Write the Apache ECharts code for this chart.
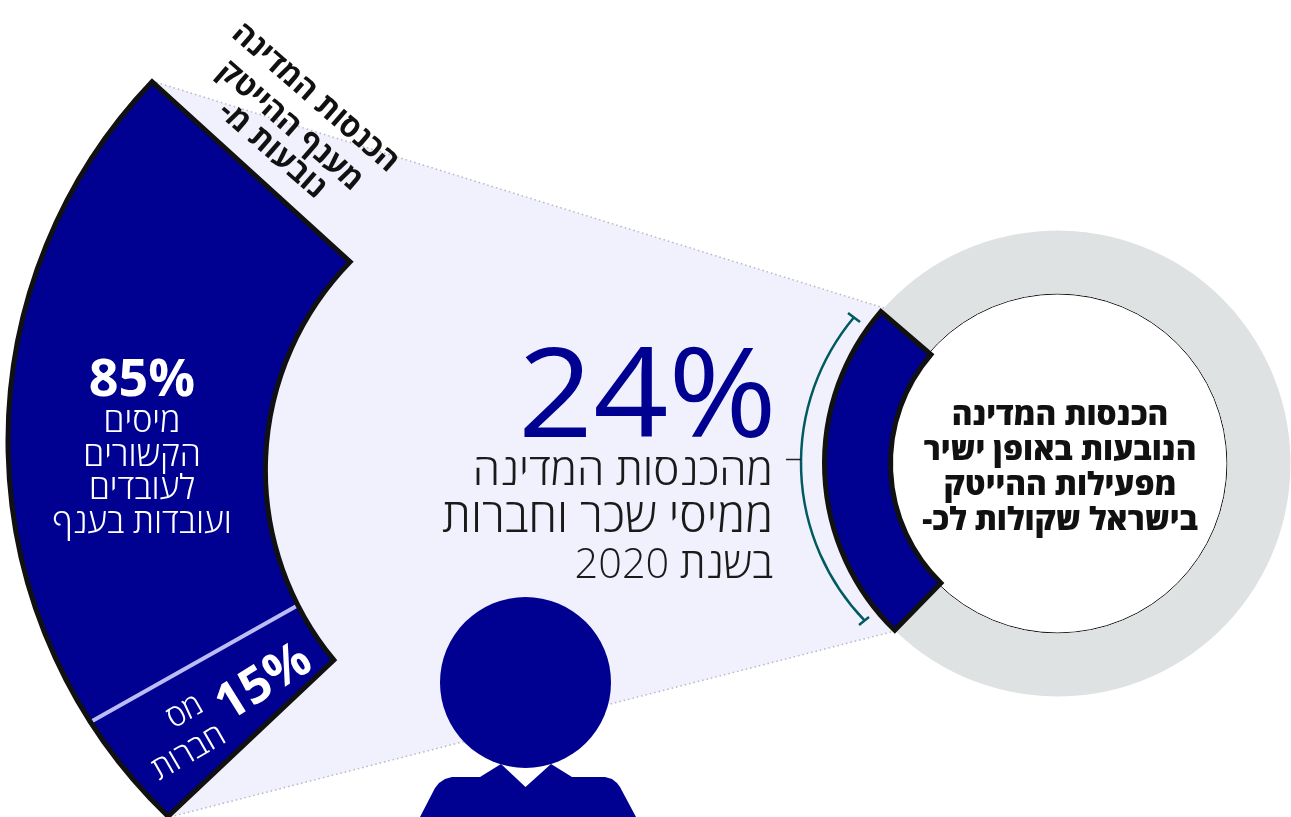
<!DOCTYPE html>
<html dir="rtl"><head><meta charset="utf-8"><style>html,body{margin:0;background:#fff;overflow:hidden}#c{width:1291px;height:817px}</style>
<script src="https://cdn.jsdelivr.net/npm/echarts@6/dist/echarts.min.js"></script></head><body><div id="c"></div><script>
const donutNames=['הכנסות ממיסי שכר וחברות','שאר הכנסות המדינה'];
const donutValues=[24,76];
const breakdownNames=['מיסים הקשורים לעובדים','מס חברות'];
const breakdownValues=[85,15];
const headline='24%';
const headlineLines=['מהכנסות המדינה','ממיסי שכר וחברות','בשנת 2020'];
const centerLines=['הכנסות המדינה','הנובעות באופן ישיר','מפעילות ההייטק','בישראל שקולות לכ-'];
const topLines=['הכנסות המדינה','מענף ההייטק','נובעות מ-'];
const wageShare='85%';
const wageLines=['מיסים','הקשורים','לעובדים','ועובדות בענף'];
const corpShare='15%';
const corpLines=['מס','חברות'];

const BLUE='#000091',INK='#111111',LAV='#f1f1fe',GREY='#dfe2e2',TEAL='#005a60';
const F='"Open Sans"';
const rad=d=>d*Math.PI/180;
const outerC={x:528,y:441,r:520,a0:136.3,a1:226.2};
const innerC={x:563.4,y:470,r:298,a0:135.7,a1:219.6};
const pt=(c,t)=>{const a=rad(c.a0+(c.a1-c.a0)*t);return [c.x+c.r*Math.cos(a),c.y-c.r*Math.sin(a)];};
const total=breakdownValues.reduce((a,b)=>a+b,0);
function band(t0,t1){
  const o0=pt(outerC,t0),o1=pt(outerC,t1),i0=pt(innerC,t0),i1=pt(innerC,t1);
  return `M${o0} A${outerC.r} ${outerC.r} 0 0 0 ${o1} L${i1} A${innerC.r} ${innerC.r} 0 0 1 ${i0} Z`.replace(/,/g,' ');
}
function renderBand(params,api){
  const idx=params.dataIndex;
  const t0=breakdownValues.slice(0,idx).reduce((a,b)=>a+b,0)/total;
  const t1=t0+api.value(0)/total;
  const kids=[{type:'path',shape:{pathData:band(t0,t1)},style:{fill:BLUE,stroke:BLUE,lineWidth:1}}];
  if(idx===breakdownValues.length-1){
    const s=pt(outerC,t0),e=pt(innerC,t0);
    kids.push({type:'line',shape:{x1:s[0],y1:s[1],x2:e[0],y2:e[1]},style:{stroke:'#bcbcf5',lineWidth:4}});
    kids.push({type:'path',shape:{pathData:band(0,1)},style:{fill:null,stroke:INK,lineWidth:5,lineJoin:'miter',miterLimit:10}});
  }
  return {type:'group',children:kids};
}
// y is the baseline for upright text, and the optical centre for rotated text
const txt=(text,x,y,size,weight,fill,align,rot)=>({type:'text',z:10,silent:true,x,y:rot?y:y-0.3*size,rotation:rot?rad(rot):0,
  style:{text,fill,font:`${weight} ${size}px ${F}`,textAlign:align||'center',textVerticalAlign:'middle'}});
const bodySizes=[44,46.4,41.5];
const els=[
  {type:'polygon',z:0,silent:true,shape:{points:[[152,81],[884,308],[895,631],[166,818]]},style:{fill:LAV}},
  {type:'line',z:0,silent:true,shape:{x1:152,y1:81,x2:884,y2:308},style:{stroke:'#b7b7c6',lineWidth:1.5,lineDash:[1.5,3]}},
  {type:'line',z:0,silent:true,shape:{x1:166,y1:818,x2:895,y2:631},style:{stroke:'#b7b7c6',lineWidth:1.5,lineDash:[1.5,3]}},
  {type:'circle',z:1,silent:true,shape:{cx:1057.5,cy:463.5,r:169.5},style:{fill:'#fff',stroke:'#111',lineWidth:1}},
  {type:'arc',z:5,silent:true,shape:{cx:1028,cy:463,r:227,startAngle:rad(136),endAngle:rad(219.8),clockwise:true},style:{fill:null,stroke:TEAL,lineWidth:2.5}},
  {type:'line',z:5,silent:true,shape:{x1:848,y1:313,x2:860,y2:322},style:{stroke:TEAL,lineWidth:2.5}},
  {type:'line',z:5,silent:true,shape:{x1:859,y1:625,x2:869,y2:617},style:{stroke:TEAL,lineWidth:2.5}},
  {type:'line',z:5,silent:true,shape:{x1:786,y1:459.5,x2:801,y2:459.5},style:{stroke:'#222',lineWidth:1.5}},
  {type:'circle',z:6,silent:true,shape:{cx:525.5,cy:682.5,r:85.5},style:{fill:BLUE}},
  {type:'polygon',z:6,silent:true,shape:{points:[[420,817],[435,788],[439,783],[445,779],[452,777],[480,777],[501,764],[525.5,787],[551,764],[572,777],[605,777],[612,779],[617,783],[620,787],[636,817]]},style:{fill:BLUE}},
  Object.assign(txt(headline,777,439,124,400,BLUE,'right'),{scaleX:1.06,scaleY:1}),
  ...headlineLines.map((s,i)=>txt(s,773,486+i*46.5,bodySizes[i],300,'#1a1a1a','right')),
  ...centerLines.map((s,i)=>txt(s,1060,425+i*35.3,31.5,800,'#111','center')),
  ...topLines.map((s,i)=>txt(s,[315,290,272][i],[98,126,150][i],31,700,'#111','center',-41)),
  txt(wageShare,142,397,52,700,'#fff','center'),
  ...wageLines.map((s,i)=>txt(s,142,433+i*33.5,34,300,'#fff','center')),
  txt(corpShare,264,683,50,700,'#fff','center',32),
  txt(corpLines[0],185,712,31,300,'#fff','center',30),
  txt(corpLines[1],189,753,32,300,'#fff','center',30)
];
const chart=echarts.init(document.getElementById('c'));
chart.setOption({
  animation:false,
  graphic:{elements:els},
  series:[
    {type:'pie',z:2,silent:true,center:[1057.5,463.5],radius:[170,233],startAngle:225.7,label:{show:false},labelLine:{show:false},
     data:donutValues.map((v,i)=>({name:donutNames[i],value:v,itemStyle:{color:GREY}}))},
    {type:'pie',z:3,silent:true,center:[1057.5,463.5],radius:[167,233],startAngle:225.7,label:{show:false},labelLine:{show:false},
     data:donutValues.map((v,i)=>({name:donutNames[i],value:v,itemStyle:i===0?{color:BLUE,borderColor:INK,borderWidth:5,borderJoin:'miter'}:{color:'transparent',borderWidth:0}}))},
    {type:'custom',z:3,silent:true,coordinateSystem:'none',renderItem:renderBand,
     data:breakdownValues.map((v,i)=>({name:breakdownNames[i],value:[v]}))}
  ]
});
</script></body></html>
